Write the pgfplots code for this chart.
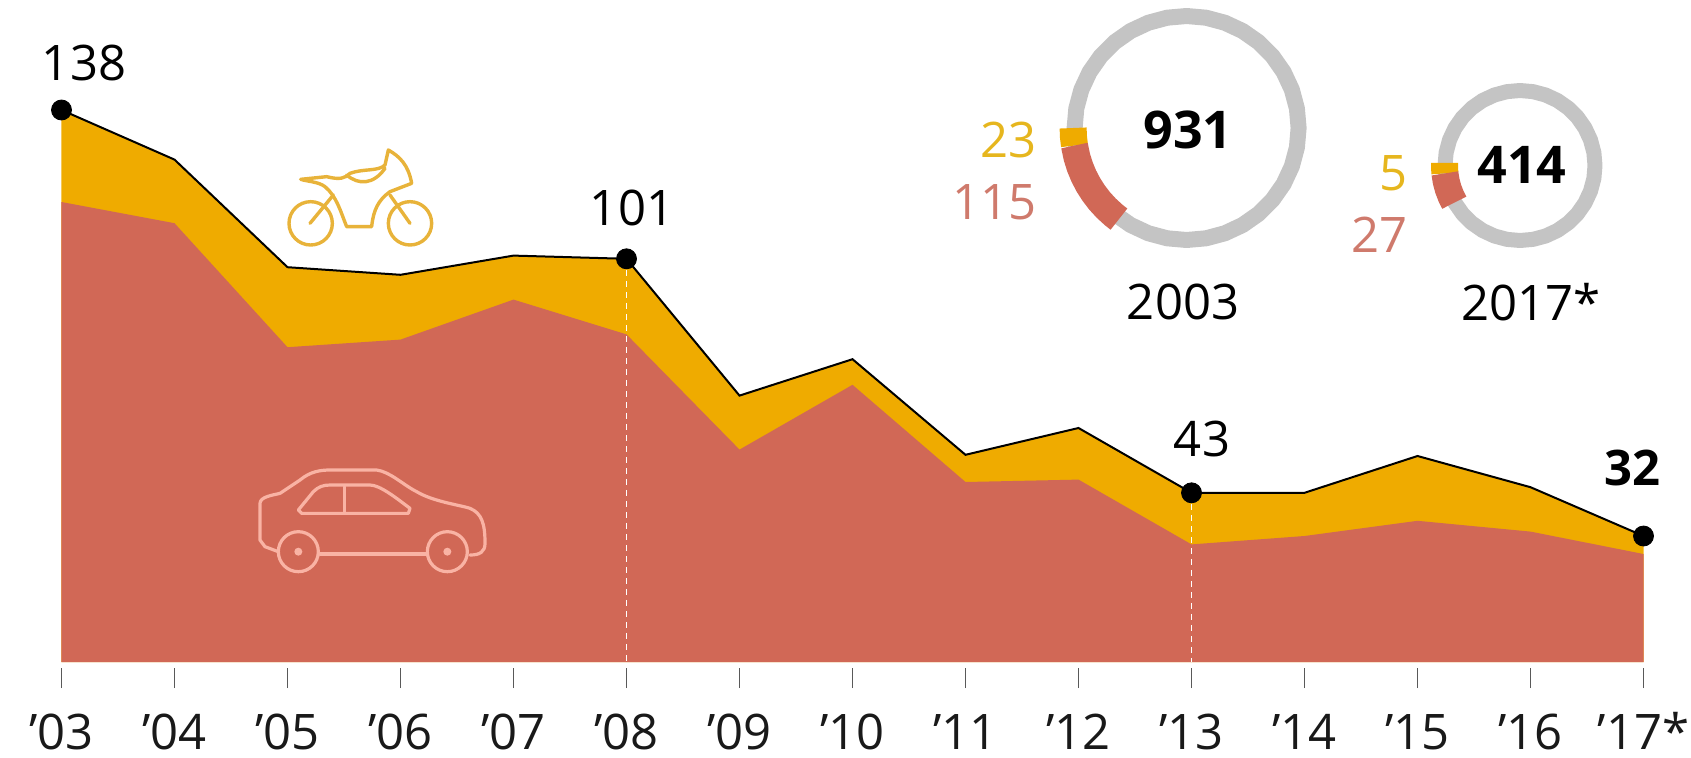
\documentclass[border=0pt]{standalone}
\usepackage{fontspec}
\setmainfont{Open Sans}
\usepackage{pgfplots}
\usepgfplotslibrary{polar}
\pgfplotsset{compat=1.18}
\definecolor{carred}{HTML}{D16856}
\definecolor{motogold}{HTML}{EFAB00}
\definecolor{ringgrey}{HTML}{C4C4C4}
\definecolor{cartext}{HTML}{CF7A6C}
\definecolor{mototext}{HTML}{E6B61E}
\definecolor{caricon}{HTML}{F9B3A4}
\definecolor{motoicon}{HTML}{E8B33A}
\pgfplotsset{ring/.style={hide axis,scale only axis,width=127pt,height=127pt,ymin=0,ymax=127,xmin=0,xmax=360,clip=false}}
\begin{document}
\begin{tikzpicture}
\useasboundingbox (-30.75pt,-44.5pt) rectangle (814.75pt,334pt);
\begin{axis}[
  at={(0pt,0pt)},anchor=south west,
  scale only axis,width=791pt,height=334pt,
  xmin=2003,xmax=2017,ymin=-1.5,ymax=165.5,
  clip=false,
  axis x line*=bottom,axis y line=none,
  x axis line style={draw=none,-},
  xtick align=outside,
  major tick length=10pt,
  tick style={draw=black!65,line width=0.6pt},
  xtick={2003,2004,2005,2006,2007,2008,2009,2010,2011,2012,2013,2014,2015,2016,2017},
  xticklabels={’03,’04,’05,’06,’07,’08,’09,’10,’11,’12,’13,’14,’15,’16,’17*},
  xticklabel style={font=\fontsize{24.5}{28}\selectfont,text=black!90,anchor=base,text height=18pt,text depth=0pt,inner sep=0pt,yshift=-30.5pt},
]
\addplot[fill=motogold,draw=none] coordinates {
 (2003,0)(2003,138)(2004,125.6)(2005,98.7)(2006,96.8)(2007,101.6)(2008,100.8)(2009,66.6)(2010,75.7)
 (2011,51.8)(2012,58.5)(2013,42.3)(2014,42.3)(2015,51.5)(2016,43.7)(2017,31.5)(2017,0)} -- cycle;
\addplot[fill=carred,draw=none] coordinates {
 (2003,0)(2003,115)(2004,109.7)(2005,78.7)(2006,80.6)(2007,90.6)(2008,81.9)(2009,53.1)(2010,69.3)
 (2011,45)(2012,45.6)(2013,29.4)(2014,31.5)(2015,35.3)(2016,32.6)(2017,27)(2017,0)} -- cycle;
\addplot[white,line width=0.9pt,dash pattern=on 3pt off 2.5pt] coordinates {(2008,100.8)(2008,0)};
\addplot[white,line width=0.9pt,dash pattern=on 3pt off 2.5pt] coordinates {(2013,42.3)(2013,0)};
\addplot[black,line width=1pt] coordinates {
 (2003,138)(2004,125.6)(2005,98.7)(2006,96.8)(2007,101.6)(2008,100.8)(2009,66.6)(2010,75.7)
 (2011,51.8)(2012,58.5)(2013,42.3)(2014,42.3)(2015,51.5)(2016,43.7)(2017,31.5)};
\addplot[only marks,mark=*,mark size=5pt,black] coordinates {(2003,138)(2008,100.8)(2013,42.3)(2017,31.5)};
\end{axis}
% ring 2003
\begin{polaraxis}[ring,at={(562.55pt,270pt)},anchor=center]
\addplot[ringgrey,line width=8pt,line join=round] coordinates {(0,112)(10,112)(20,112)(30,112)(40,112)(50,112)(60,112)(70,112)(80,112)(90,112)(100,112)(110,112)(120,112)(130,112)(140,112)(150,112)(160,112)(170,112)(180,112)(190,112)(200,112)(210,112)(220,112)(230,112)(240,112)(250,112)(260,112)(270,112)(280,112)(290,112)(300,112)(310,112)(320,112)(330,112)(340,112)(350,112)(360,112)(370,112)};
\addplot[motogold,line width=13.5pt] coordinates {(180,113.5)(184.5,113.5)(188.9,113.5)};
\addplot[carred,line width=13.5pt] coordinates {(188.9,113.5)(195,113.5)(200,113.5)(205,113.5)(210,113.5)(215,113.5)(220,113.5)(225,113.5)(230,113.5)(233.4,113.5)};
\end{polaraxis}
% ring 2017
\begin{polaraxis}[ring,at={(729.25pt,251.25pt)},anchor=center]
\addplot[ringgrey,line width=7.5pt,line join=round] coordinates {(0,75)(10,75)(20,75)(30,75)(40,75)(50,75)(60,75)(70,75)(80,75)(90,75)(100,75)(110,75)(120,75)(130,75)(140,75)(150,75)(160,75)(170,75)(180,75)(190,75)(200,75)(210,75)(220,75)(230,75)(240,75)(250,75)(260,75)(270,75)(280,75)(290,75)(300,75)(310,75)(320,75)(330,75)(340,75)(350,75)(360,75)(370,75)};
\addplot[motogold,line width=13.5pt] coordinates {(178,75.5)(182,75.5)(186,75.5)};
\addplot[carred,line width=13.5pt] coordinates {(186,75.5)(192,75.5)(198,75.5)(204,75.5)(209.5,75.5)};
\end{polaraxis}
% pixel coordinates of the reference
\begin{scope}[x=0.5pt,y=-0.5pt,xshift=-30.75pt,yshift=334pt]
\tikzset{lab/.style={font=\fontsize{24.5}{28}\selectfont,inner sep=0pt}}
\node[lab] at (84,62.5) {138};
\node[lab] at (632,208) {101};
\node[lab] at (1202,439) {43};
\node[lab,font=\fontsize{24.5}{28}\selectfont\bfseries] at (1632,468) {32};
\node[lab,font=\fontsize{26}{28}\selectfont\bfseries] at (1188,130) {931};
\node[lab,font=\fontsize{26}{28}\selectfont\bfseries] at (1522,165) {414};
\node[lab,anchor=east,text=mototext] at (1037,140) {23};
\node[lab,anchor=east,text=cartext] at (1037,202) {115};
\node[lab,anchor=east,text=mototext] at (1408,173) {5};
\node[lab,anchor=east,text=cartext] at (1408,235) {27};
\node[lab] at (1183,302) {2003};
\node[lab] at (1531,302) {2017*};
\end{scope}
% icons, in coordinates of the 3x crop at (230,130)
\begin{scope}[x=0.16667pt,y=-0.16667pt,xshift=84.25pt,yshift=269pt]
\begin{scope}[draw=motoicon,line width=1.7pt,line join=round,line cap=round]
\draw (242,280) circle[radius=65];
\draw (540,280) circle[radius=65];
\draw (240,280) -- (310,195);
\draw (540,280) -- (480,195);
\draw (212,148) -- (290,140) .. controls (330,150) and (345,145) .. (360,130) .. controls (400,115) and (445,125) .. (465,105) -- (475,60) .. controls (510,80) and (535,105) .. (545,160) -- (480,185) .. controls (445,210) and (430,240) .. (425,290) -- (350,290) .. controls (330,240) and (320,200) .. (285,170) .. controls (265,155) and (235,155) .. (212,148);
\draw (350,135) .. controls (385,165) and (430,165) .. (465,115);
\end{scope}
\begin{scope}[draw=caricon,line width=1.6pt,line join=round,line cap=round]
\draw (145,1265) -- (105,1250) -- (90,1230) -- (90,1120) .. controls (90,1100) and (130,1095) .. (150,1090) -- (210,1050) .. controls (240,1025) and (270,1020) .. (300,1020) -- (440,1020) .. controls (480,1025) and (520,1065) .. (560,1085) .. controls (610,1115) and (690,1125) .. (720,1135) .. controls (755,1150) and (765,1180) .. (765,1240) .. controls (765,1265) and (750,1275) .. (720,1275);
\draw (270,1272) -- (590,1272);
\draw (205,1265) circle[radius=60];
\draw (652,1265) circle[radius=60];
\fill[caricon] (205,1265) circle[radius=12];
\fill[caricon] (652,1265) circle[radius=12];
\draw (205,1140) -- (250,1085) .. controls (265,1070) and (280,1065) .. (300,1065) -- (420,1065) .. controls (450,1065) and (500,1105) .. (540,1135) -- (535,1150) -- (215,1150) -- cycle;
\draw (343,1070) -- (343,1148);
\end{scope}
\end{scope}
\end{tikzpicture}
\end{document}
